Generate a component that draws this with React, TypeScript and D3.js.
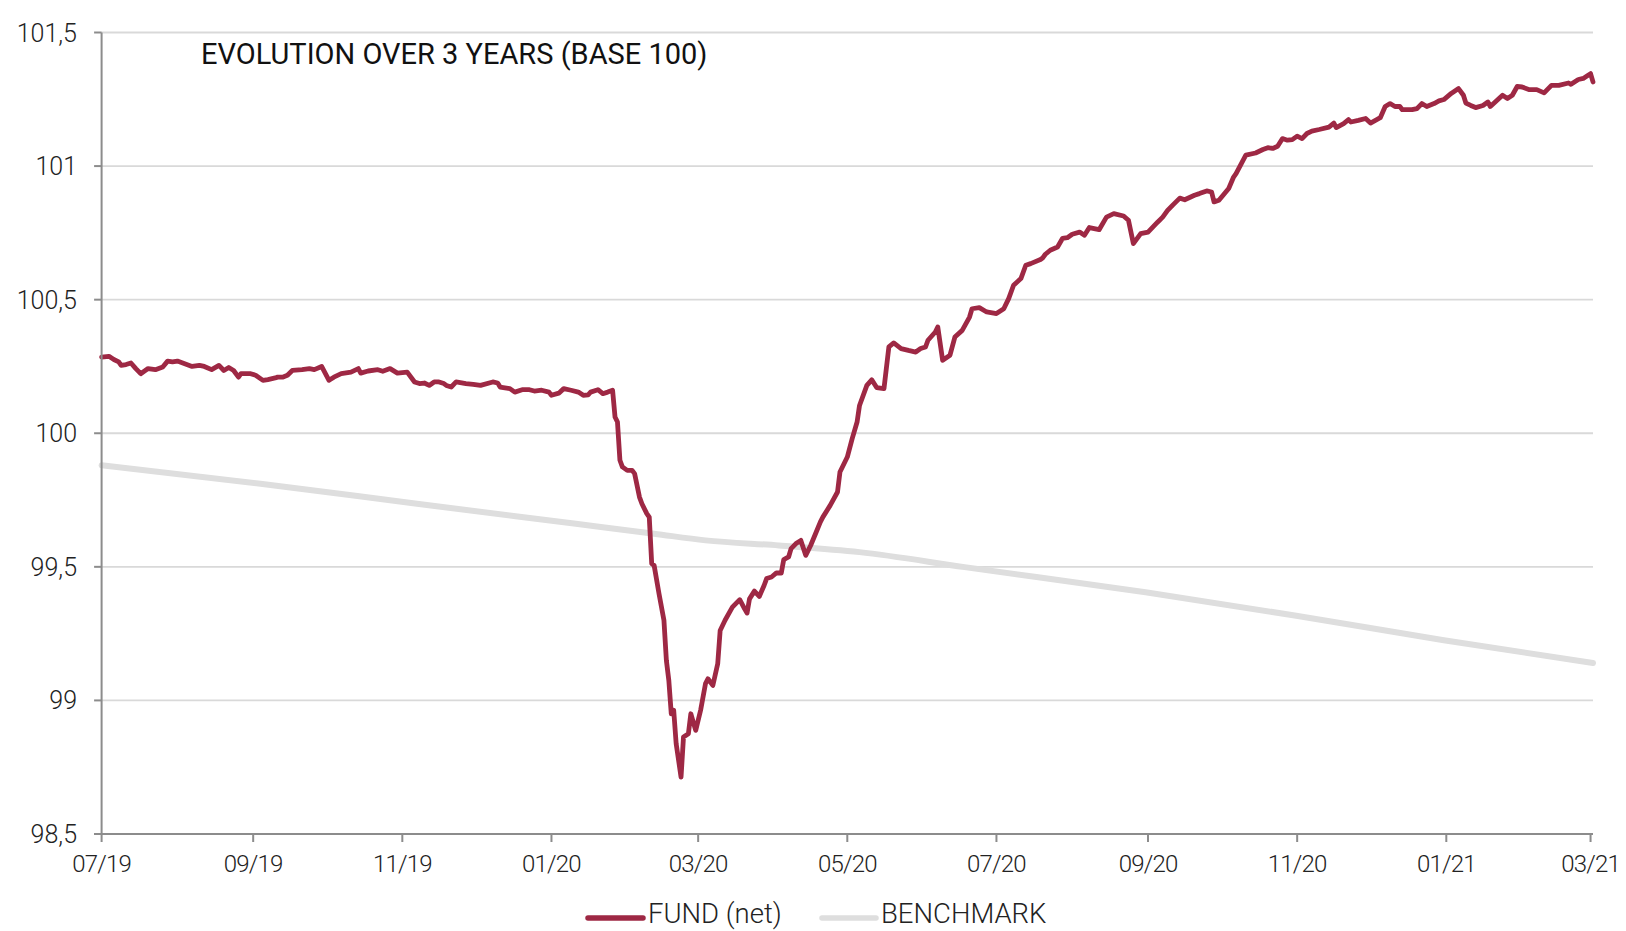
import React from 'react';
import * as d3 from 'd3';

const fundSeries: [string, number][] = [
  ['2019-07-01', 100.285], ['2019-07-04', 100.288], ['2019-07-06', 100.276], ['2019-07-08', 100.267],
  ['2019-07-09', 100.254], ['2019-07-11', 100.257], ['2019-07-13', 100.263], ['2019-07-15', 100.242],
  ['2019-07-17', 100.223], ['2019-07-20', 100.242], ['2019-07-23', 100.238], ['2019-07-26', 100.248],
  ['2019-07-28', 100.27], ['2019-07-30', 100.267], ['2019-08-01', 100.27], ['2019-08-04', 100.26],
  ['2019-08-07', 100.25], ['2019-08-10', 100.254], ['2019-08-12', 100.25], ['2019-08-15', 100.238],
  ['2019-08-18', 100.254], ['2019-08-20', 100.235], ['2019-08-22', 100.246], ['2019-08-24', 100.235],
  ['2019-08-26', 100.21], ['2019-08-27', 100.223], ['2019-08-31', 100.223], ['2019-09-02', 100.217],
  ['2019-09-05', 100.198], ['2019-09-07', 100.201], ['2019-09-10', 100.207], ['2019-09-11', 100.21],
  ['2019-09-13', 100.21], ['2019-09-15', 100.217], ['2019-09-17', 100.235], ['2019-09-21', 100.238],
  ['2019-09-24', 100.242], ['2019-09-26', 100.238], ['2019-09-29', 100.25], ['2019-10-02', 100.198],
  ['2019-10-04', 100.21], ['2019-10-07', 100.223], ['2019-10-11', 100.229], ['2019-10-14', 100.242],
  ['2019-10-15', 100.225], ['2019-10-18', 100.233], ['2019-10-22', 100.238], ['2019-10-24', 100.232],
  ['2019-10-27', 100.242], ['2019-10-30', 100.225], ['2019-11-03', 100.229], ['2019-11-06', 100.192],
  ['2019-11-08', 100.186], ['2019-11-10', 100.188], ['2019-11-12', 100.179], ['2019-11-14', 100.192],
  ['2019-11-16', 100.192], ['2019-11-18', 100.186], ['2019-11-19', 100.179], ['2019-11-21', 100.173],
  ['2019-11-23', 100.192], ['2019-11-27', 100.186], ['2019-11-30', 100.183], ['2019-12-03', 100.179],
  ['2019-12-08', 100.192], ['2019-12-10', 100.188], ['2019-12-11', 100.173], ['2019-12-15', 100.167],
  ['2019-12-17', 100.154], ['2019-12-20', 100.163], ['2019-12-23', 100.163], ['2019-12-25', 100.158],
  ['2019-12-28', 100.161], ['2019-12-31', 100.154], ['2020-01-01', 100.142], ['2020-01-04', 100.15],
  ['2020-01-06', 100.167], ['2020-01-09', 100.161], ['2020-01-12', 100.154], ['2020-01-14', 100.142],
  ['2020-01-16', 100.144], ['2020-01-17', 100.154], ['2020-01-20', 100.163], ['2020-01-22', 100.148],
  ['2020-01-24', 100.154], ['2020-01-26', 100.161], ['2020-01-27', 100.061], ['2020-01-28', 100.042],
  ['2020-01-29', 99.899], ['2020-01-30', 99.874], ['2020-02-01', 99.861], ['2020-02-03', 99.861],
  ['2020-02-04', 99.849], ['2020-02-06', 99.761], ['2020-02-07', 99.736], ['2020-02-09', 99.699],
  ['2020-02-10', 99.686], ['2020-02-11', 99.512], ['2020-02-12', 99.505], ['2020-02-14', 99.399],
  ['2020-02-16', 99.3], ['2020-02-17', 99.15], ['2020-02-18', 99.075], ['2020-02-19', 98.95],
  ['2020-02-20', 98.963], ['2020-02-21', 98.838], ['2020-02-23', 98.713], ['2020-02-24', 98.863],
  ['2020-02-26', 98.875], ['2020-02-27', 98.95], ['2020-02-28', 98.919], ['2020-02-29', 98.888],
  ['2020-03-02', 98.963], ['2020-03-04', 99.063], ['2020-03-05', 99.081], ['2020-03-07', 99.056],
  ['2020-03-09', 99.137], ['2020-03-10', 99.262], ['2020-03-12', 99.3], ['2020-03-15', 99.349],
  ['2020-03-17', 99.368], ['2020-03-18', 99.377], ['2020-03-20', 99.343], ['2020-03-21', 99.327],
  ['2020-03-22', 99.38], ['2020-03-24', 99.409], ['2020-03-26', 99.389], ['2020-03-28', 99.431],
  ['2020-03-29', 99.456], ['2020-03-31', 99.462], ['2020-04-02', 99.477], ['2020-04-04', 99.477],
  ['2020-04-05', 99.527], ['2020-04-07', 99.537], ['2020-04-08', 99.568], ['2020-04-10', 99.587],
  ['2020-04-12', 99.599], ['2020-04-14', 99.543], ['2020-04-16', 99.58], ['2020-04-18', 99.624],
  ['2020-04-20', 99.668], ['2020-04-21', 99.686], ['2020-04-24', 99.73], ['2020-04-27', 99.78],
  ['2020-04-28', 99.855], ['2020-05-01', 99.911], ['2020-05-03', 99.98], ['2020-05-05', 100.042],
  ['2020-05-06', 100.104], ['2020-05-09', 100.179], ['2020-05-11', 100.2], ['2020-05-13', 100.171],
  ['2020-05-16', 100.167], ['2020-05-18', 100.323], ['2020-05-20', 100.338], ['2020-05-23', 100.317],
  ['2020-05-26', 100.31], ['2020-05-29', 100.304], ['2020-05-31', 100.317], ['2020-06-02', 100.323],
  ['2020-06-03', 100.348], ['2020-06-06', 100.379], ['2020-06-07', 100.398], ['2020-06-09', 100.273],
  ['2020-06-12', 100.292], ['2020-06-14', 100.36], ['2020-06-17', 100.385], ['2020-06-20', 100.435],
  ['2020-06-21', 100.466], ['2020-06-24', 100.47], ['2020-06-27', 100.454], ['2020-07-01', 100.448],
  ['2020-07-04', 100.466], ['2020-07-06', 100.504], ['2020-07-08', 100.554], ['2020-07-11', 100.579],
  ['2020-07-13', 100.629], ['2020-07-15', 100.635], ['2020-07-19', 100.65], ['2020-07-20', 100.657],
  ['2020-07-21', 100.67], ['2020-07-23', 100.685], ['2020-07-26', 100.697], ['2020-07-28', 100.729],
  ['2020-07-30', 100.732], ['2020-08-01', 100.745], ['2020-08-04', 100.753], ['2020-08-06', 100.741],
  ['2020-08-08', 100.77], ['2020-08-12', 100.762], ['2020-08-15', 100.809], ['2020-08-18', 100.822],
  ['2020-08-22', 100.813], ['2020-08-24', 100.797], ['2020-08-26', 100.71], ['2020-08-29', 100.747],
  ['2020-09-01', 100.753], ['2020-09-05', 100.791], ['2020-09-07', 100.809], ['2020-09-09', 100.834],
  ['2020-09-11', 100.853], ['2020-09-14', 100.88], ['2020-09-16', 100.874], ['2020-09-20', 100.891],
  ['2020-09-22', 100.897], ['2020-09-25', 100.907], ['2020-09-27', 100.903], ['2020-09-28', 100.866],
  ['2020-09-30', 100.872], ['2020-10-04', 100.916], ['2020-10-06', 100.959], ['2020-10-07', 100.972],
  ['2020-10-11', 101.041], ['2020-10-15', 101.049], ['2020-10-18', 101.062], ['2020-10-20', 101.069],
  ['2020-10-22', 101.066], ['2020-10-24', 101.074], ['2020-10-26', 101.103], ['2020-10-28', 101.097],
  ['2020-10-30', 101.099], ['2020-11-01', 101.112], ['2020-11-03', 101.103], ['2020-11-05', 101.122],
  ['2020-11-07', 101.131], ['2020-11-10', 101.137], ['2020-11-14', 101.146], ['2020-11-16', 101.161],
  ['2020-11-17', 101.144], ['2020-11-20', 101.159], ['2020-11-22', 101.174], ['2020-11-23', 101.165],
  ['2020-11-26', 101.171], ['2020-11-29', 101.178], ['2020-12-01', 101.161], ['2020-12-05', 101.181],
  ['2020-12-07', 101.223], ['2020-12-09', 101.234], ['2020-12-11', 101.223], ['2020-12-13', 101.223],
  ['2020-12-14', 101.211], ['2020-12-18', 101.211], ['2020-12-20', 101.215], ['2020-12-22', 101.234],
  ['2020-12-24', 101.223], ['2020-12-27', 101.234], ['2020-12-29', 101.244], ['2020-12-31', 101.249],
  ['2021-01-03', 101.272], ['2021-01-06', 101.29], ['2021-01-08', 101.265], ['2021-01-09', 101.236],
  ['2021-01-11', 101.227], ['2021-01-13', 101.219], ['2021-01-16', 101.227], ['2021-01-18', 101.24],
  ['2021-01-19', 101.223], ['2021-01-21', 101.24], ['2021-01-24', 101.265], ['2021-01-26', 101.253],
  ['2021-01-28', 101.265], ['2021-01-30', 101.298], ['2021-02-01', 101.296], ['2021-02-04', 101.286],
  ['2021-02-07', 101.286], ['2021-02-10', 101.274], ['2021-02-13', 101.302], ['2021-02-16', 101.302],
  ['2021-02-20', 101.311], ['2021-02-21', 101.306], ['2021-02-24', 101.324], ['2021-02-26', 101.328],
  ['2021-02-28', 101.34], ['2021-03-01', 101.346], ['2021-03-02', 101.315],
];

const benchmarkSeries: [string, number][] = [
  ['2019-07-01', 99.88], ['2019-09-04', 99.811], ['2019-11-07', 99.736], ['2020-01-11', 99.661],
  ['2020-02-12', 99.624], ['2020-03-04', 99.599], ['2020-04-03', 99.58], ['2020-05-06', 99.555],
  ['2020-06-18', 99.499], ['2020-08-31', 99.405], ['2020-10-31', 99.318], ['2020-12-31', 99.225],
  ['2021-03-02', 99.14],
];

const yTicks = [98.5, 99, 99.5, 100, 100.5, 101, 101.5];
const yTickLabels = ['98,5', '99', '99,5', '100', '100,5', '101', '101,5'];
const xTickDates = ['2019-07-01', '2019-09-01', '2019-11-01', '2020-01-01', '2020-03-01', '2020-05-01',
  '2020-07-01', '2020-09-01', '2020-11-01', '2021-01-01', '2021-03-01'];
const xTickLabels = ['07/19', '09/19', '11/19', '01/20', '03/20', '05/20', '07/20', '09/20', '11/20', '01/21', '03/21'];
const xDomain = ['2019-07-01', '2021-03-02'];
const chartTitle = 'EVOLUTION OVER 3 YEARS (BASE 100)';
const seriesNames = ['FUND (net)', 'BENCHMARK'];
const seriesColors = ['#9e2844', '#dedede'];

export default function App() {
  const W = 1626;
  const H = 931;
  const left = 101.6;
  const right = 1593;
  const top = 32.5;
  const bottom = 834;
  const parse = d3.utcParse('%Y-%m-%d');
  const x = d3.scaleUtc().domain(xDomain.map((s) => parse(s) as Date)).range([left, right]);
  const y = d3.scaleLinear().domain([98.5, 101.5]).range([bottom, top]);
  const line = d3
    .line<[string, number]>()
    .x((d) => x(parse(d[0]) as Date))
    .y((d) => y(d[1]));
  const smooth = d3
    .line<[string, number]>()
    .x((d) => x(parse(d[0]) as Date))
    .y((d) => y(d[1]))
    .curve(d3.curveMonotoneX);
  const font = 'Roboto, "Open Sans", sans-serif';
  const axisColor = '#8c8c8c';

  const legendItems = [
    { name: seriesNames[0], color: seriesColors[0], x0: 588, x1: 643, tx: 648 },
    { name: seriesNames[1], color: seriesColors[1], x0: 822, x1: 876, tx: 881 },
  ];

  return (
    <div style={{ position: 'absolute', left: 0, top: 0 }}>
      <svg width={W} height={H} style={{ display: 'block', background: '#fff' }}>
        <rect x={0} y={0} width={W} height={H} fill="#fff" />
        {yTicks.map((t) =>
          t === 98.5 ? null : (
            <line key={'g' + t} x1={left} x2={right} y1={y(t)} y2={y(t)} stroke="#d9d9d9" strokeWidth={1.8} />
          )
        )}
        <path d={smooth(benchmarkSeries) || ''} fill="none" stroke={seriesColors[1]} strokeWidth={6} strokeLinecap="round" />
        <path d={line(fundSeries) || ''} fill="none" stroke={seriesColors[0]} strokeWidth={4.8} strokeLinejoin="round" strokeLinecap="round" />
        <line x1={left} x2={left} y1={top} y2={bottom} stroke={axisColor} strokeWidth={2} />
        <line x1={left - 7.5} x2={right} y1={bottom} y2={bottom} stroke={axisColor} strokeWidth={2} />
        {yTicks.map((t, i) => (
          <g key={'y' + t}>
            <line x1={left - 7.5} x2={left} y1={y(t)} y2={y(t)} stroke={axisColor} strokeWidth={2} />
            <text
              x={77}
              y={y(t) + 9}
              textAnchor="end"
              fontFamily={font}
              fontWeight={300}
              fontSize={25}
              fill="#222"
            >
              {yTickLabels[i]}
            </text>
          </g>
        ))}
        {xTickDates.map((s, i) => {
          const xx = x(parse(s) as Date);
          return (
            <g key={'x' + s}>
              <line x1={xx} x2={xx} y1={bottom} y2={bottom + 8} stroke={axisColor} strokeWidth={2} />
              <text
                x={xx}
                y={872}
                textAnchor="middle"
                fontFamily={font}
                fontWeight={300}
                fontSize={24}
                letterSpacing={-0.8}
                fill="#222"
              >
                {xTickLabels[i]}
              </text>
            </g>
          );
        })}
        <text x={201} y={64} fontFamily={font} fontWeight={400} fontSize={29} fill="#111">
          {chartTitle}
        </text>
        {legendItems.map((it) => (
          <g key={it.name}>
            <line x1={it.x0} x2={it.x1} y1={918} y2={918} stroke={it.color} strokeWidth={5.5} strokeLinecap="round" />
            <text x={it.tx} y={923} fontFamily={font} fontWeight={300} fontSize={27.5} fill="#222">
              {it.name}
            </text>
          </g>
        ))}
      </svg>
    </div>
  );
}
